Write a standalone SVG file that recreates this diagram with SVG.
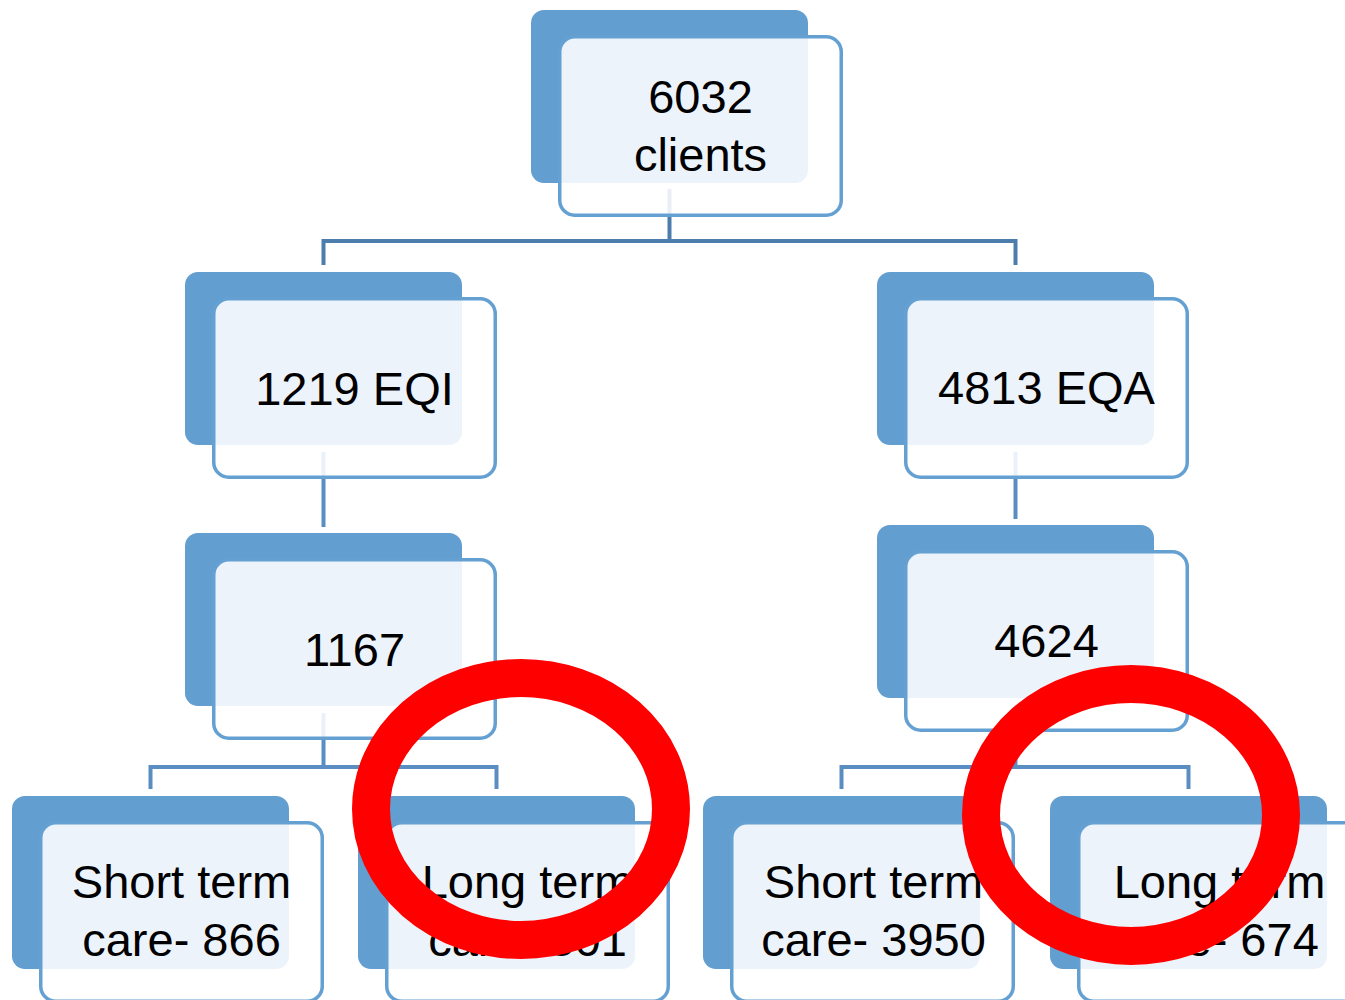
<svg xmlns="http://www.w3.org/2000/svg" width="1345" height="1000" viewBox="0 0 1345 1000">
<style>
.back{fill:#629ED0;}
.front{fill:#FFFFFF;fill-opacity:0.88;stroke:#65A0D2;stroke-width:3.5;}
.lbl{font-family:"Liberation Sans",Arial,sans-serif;font-size:47px;fill:#000000;text-anchor:middle;}
.c1{fill:none;stroke:#4C7DAC;stroke-width:4;}
.c2{fill:none;stroke:#5A8DC1;stroke-width:4;}
.ring{fill:none;stroke:#FF0000;stroke-width:38;}
</style>
<rect width="1345" height="1000" fill="#FFFFFF"/>
<g id="connectors">
  <path class="c1" d="M669.5,189 V241 M323.5,265 V241 H1015.5 V265"/>
  <path class="c2" d="M323.5,452 V527"/>
  <path class="c2" d="M1015.5,452 V519"/>
  <path class="c2" d="M323.5,713 V767 M150.5,789 V767 H496.5 V789"/>
  <path class="c2" d="M1015.5,705 V767 M841.5,789 V767 H1188.5 V789"/>
</g>
<g id="node-root">
  <rect class="back" x="531" y="10" width="277" height="173" rx="13"/>
  <rect class="front" x="559.75" y="36.75" width="281.5" height="178.5" rx="15"/>
  <text class="lbl" x="700.5" y="113">6032</text>
  <text class="lbl" x="700.5" y="171">clients</text>
</g>
<g id="node-eqi">
  <rect class="back" x="185" y="272" width="277" height="173" rx="13"/>
  <rect class="front" x="213.75" y="298.75" width="281.5" height="178.5" rx="15"/>
  <text class="lbl" x="354.5" y="405">1219 EQI</text>
</g>
<g id="node-eqa">
  <rect class="back" x="877" y="272" width="277" height="173" rx="13"/>
  <rect class="front" x="905.75" y="298.75" width="281.5" height="178.5" rx="15"/>
  <text class="lbl" x="1046.5" y="404">4813 EQA</text>
</g>
<g id="node-1167">
  <rect class="back" x="185" y="533" width="277" height="173" rx="13"/>
  <rect class="front" x="213.75" y="559.75" width="281.5" height="178.5" rx="15"/>
  <text class="lbl" x="354.5" y="666">1167</text>
</g>
<g id="node-4624">
  <rect class="back" x="877" y="525" width="277" height="173" rx="13"/>
  <rect class="front" x="905.75" y="551.75" width="281.5" height="178.5" rx="15"/>
  <text class="lbl" x="1046.5" y="657">4624</text>
</g>
<g id="node-short-866">
  <rect class="back" x="12" y="796" width="277" height="173" rx="13"/>
  <rect class="front" x="40.75" y="822.75" width="281.5" height="178.5" rx="15"/>
  <text class="lbl" x="181.5" y="898">Short term</text>
  <text class="lbl" x="181.5" y="956">care- 866</text>
</g>
<g id="node-long-301">
  <rect class="back" x="358" y="796" width="277" height="173" rx="13"/>
  <rect class="front" x="386.75" y="822.75" width="281.5" height="178.5" rx="15"/>
  <text class="lbl" x="527.5" y="898">Long term</text>
  <text class="lbl" x="527.5" y="956">care- 301</text>
</g>
<g id="node-short-3950">
  <rect class="back" x="703" y="796" width="277" height="173" rx="13"/>
  <rect class="front" x="731.75" y="822.75" width="281.5" height="178.5" rx="15"/>
  <text class="lbl" x="873.5" y="898">Short term</text>
  <text class="lbl" x="873.5" y="956">care- 3950</text>
</g>
<g id="node-long-674">
  <rect class="back" x="1050" y="796" width="277" height="173" rx="13"/>
  <rect class="front" x="1078.75" y="822.75" width="281.5" height="178.5" rx="15"/>
  <text class="lbl" x="1219.5" y="898">Long term</text>
  <text class="lbl" x="1219.5" y="956">care- 674</text>
</g>
<g id="highlights">
  <ellipse class="ring" cx="521" cy="809" rx="150" ry="131"/>
  <ellipse class="ring" cx="1131" cy="815" rx="150" ry="131"/>
</g>
</svg>
